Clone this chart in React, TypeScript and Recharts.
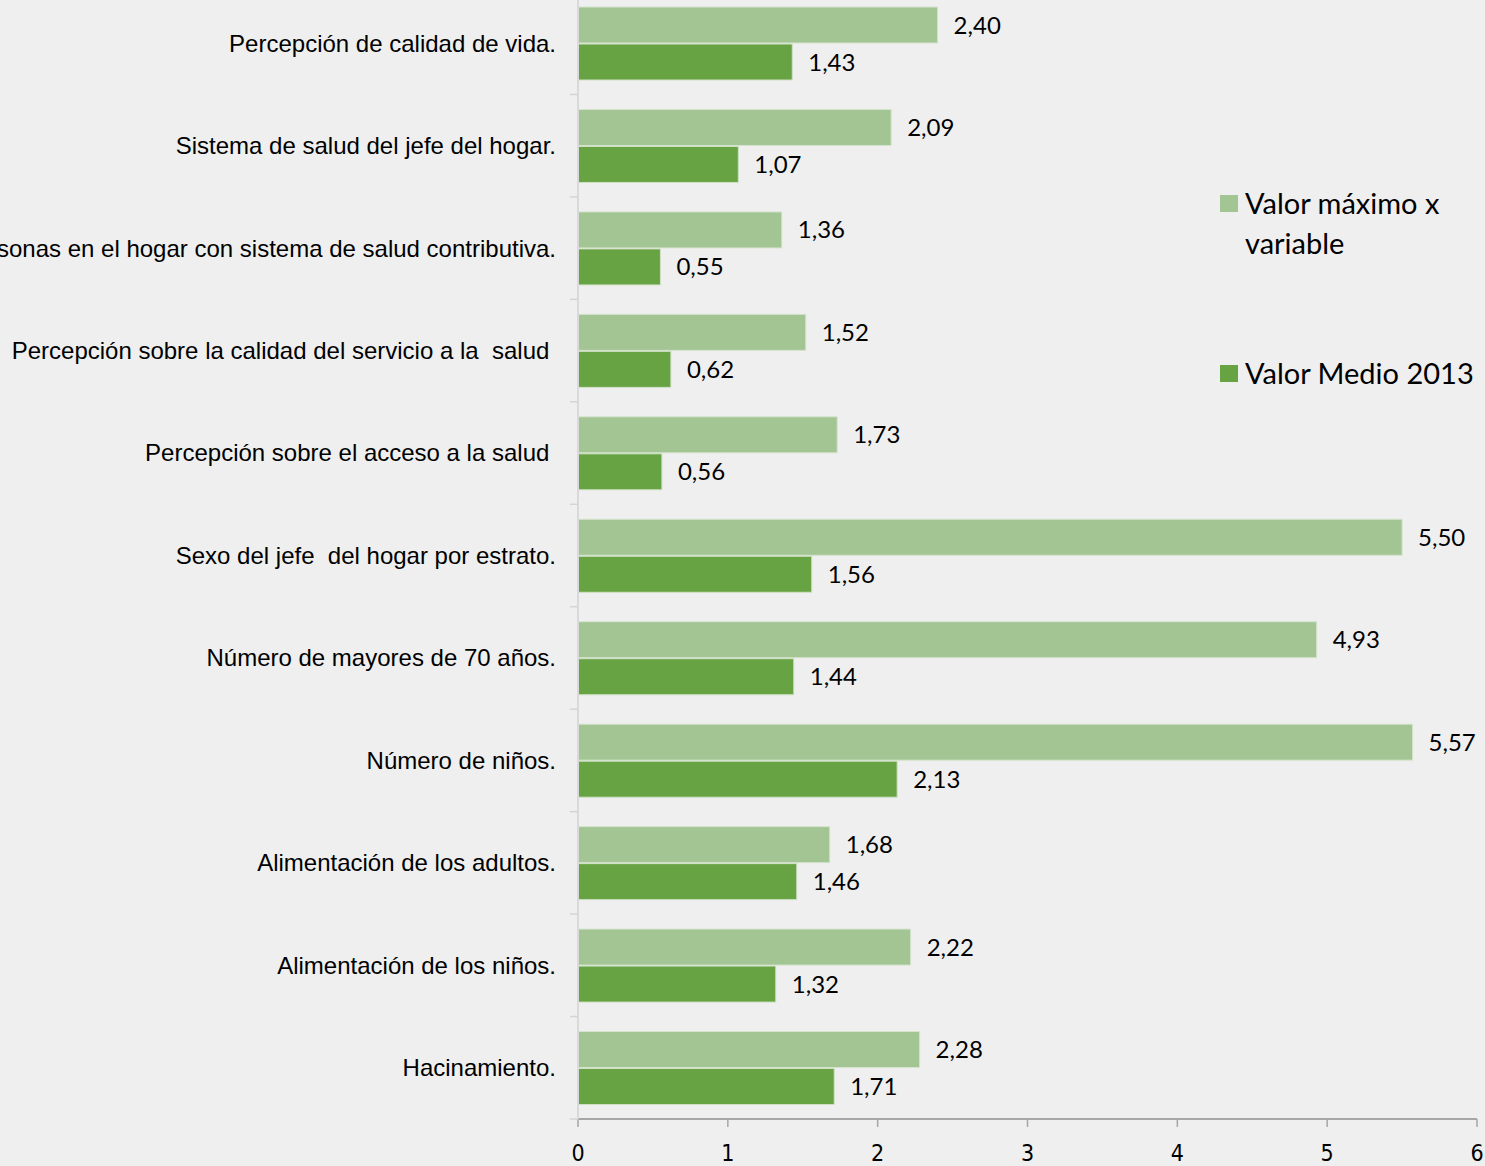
import React from 'react';
import { BarChart, Bar, XAxis, YAxis, LabelList, Legend } from 'recharts';

const categories = [
  'Percepción de calidad de vida.',
  'Sistema de salud del jefe del hogar.',
  'Personas en el hogar con sistema de salud contributiva.',
  'Percepción sobre la calidad del servicio a la  salud ',
  'Percepción sobre el acceso a la salud ',
  'Sexo del jefe  del hogar por estrato.',
  'Número de mayores de 70 años.',
  'Número de niños.',
  'Alimentación de los adultos.',
  'Alimentación de los niños.',
  'Hacinamiento.',
];
const valorMaximo = [2.40, 2.09, 1.36, 1.52, 1.73, 5.50, 4.93, 5.57, 1.68, 2.22, 2.28];
const valorMedio = [1.43, 1.07, 0.55, 0.62, 0.56, 1.56, 1.44, 2.13, 1.46, 1.32, 1.71];
const xTicks = [0, 1, 2, 3, 4, 5, 6];
const seriesNames = ['Valor máximo x variable', 'Valor Medio 2013'];

const data = categories.map((c, i) => ({ name: c, max: valorMaximo[i], medio: valorMedio[i] }));

const COLOR_MAX = '#a3c593';
const COLOR_MED = '#68a343';
const BG = '#efefef';

const CHART_W = 1485;
const CHART_H = 1190;
const MARGIN = { top: 8, right: 8, left: 0, bottom: 15 };
const X_AXIS_H = 40;
const PLOT_H = CHART_H - MARGIN.top - MARGIN.bottom - X_AXIS_H;
const BAND = PLOT_H / categories.length;

const fmt = (v: number) => v.toFixed(2).replace('.', ',');

const YTick = (props: any) => {
  const { x, y, payload } = props;
  return (
    <g>
      <line x1={x} x2={x + 8} y1={y + BAND / 2} y2={y + BAND / 2} stroke="#d4d4d4" strokeWidth={1.5} />
      <text
        x={x - 14}
        y={y}
        dy="0.35em"
        textAnchor="end"
        fontFamily="'Liberation Sans', Arial, sans-serif"
        fontSize={24}
        fill="#000"
        style={{ whiteSpace: 'pre' }}
      >
        {payload.value}
      </text>
    </g>
  );
};

const LegendContent = () => (
  <div style={{ fontFamily: "Lato, 'Open Sans', sans-serif", fontSize: 29, color: '#000', lineHeight: '40px', textAlign: 'left' }}>
    <div style={{ display: 'flex', alignItems: 'flex-start' }}>
      <div style={{ width: 18, height: 17, background: COLOR_MAX, marginTop: 12, marginRight: 7, flexShrink: 0 }} />
      <div style={{ width: 230 }}>{seriesNames[0]}</div>
    </div>
    <div style={{ display: 'flex', alignItems: 'flex-start', marginTop: 90 }}>
      <div style={{ width: 18, height: 17, background: COLOR_MED, marginTop: 12, marginRight: 7, flexShrink: 0 }} />
      <div style={{ whiteSpace: 'nowrap' }}>{seriesNames[1]}</div>
    </div>
  </div>
);

export default function App() {
  return (
    <div style={{ position: 'absolute', left: 0, top: 0, width: 1485, height: 1166, overflow: 'hidden', background: BG }}>
      <div style={{ position: 'absolute', left: 0, top: -16 }}>
        <BarChart
          width={CHART_W}
          height={CHART_H}
          data={data}
          layout="vertical"
          margin={MARGIN}
          barCategoryGap={15}
          barGap={1}
        >
          <XAxis
            type="number"
            domain={[0, 6]}
            ticks={xTicks}
            height={X_AXIS_H}
            tickSize={8}
            tickMargin={18}
            axisLine={{ stroke: '#a6a6a6', strokeWidth: 2 }}
            tickLine={{ stroke: '#a6a6a6', strokeWidth: 1.5 }}
            tick={{ fontFamily: "'DejaVu Sans Condensed', 'Liberation Sans Narrow', sans-serif", fontSize: 23, fill: '#000' }}
          />
          <YAxis
            type="category"
            dataKey="name"
            width={578}
            axisLine={{ stroke: '#d9d9d9', strokeWidth: 2 }}
            tickLine={false}
            tick={<YTick />}
            interval={0}
          />
          <Legend
            layout="vertical"
            align="center"
            verticalAlign="middle"
            content={<LegendContent />}
            wrapperStyle={{ position: 'absolute', left: 1220, top: 199, width: 265 }}
          />
          <Bar dataKey="max" name={seriesNames[0]} fill={COLOR_MAX} stroke="#d5e3cd" strokeWidth={1} isAnimationActive={false}>
            <LabelList dataKey="max" position="right" offset={16} formatter={(v: any) => fmt(Number(v))}
              style={{ fontFamily: "Lato, 'Open Sans', sans-serif", fontSize: 24, fill: '#000' }} />
          </Bar>
          <Bar dataKey="medio" name={seriesNames[1]} fill={COLOR_MED} stroke="#cfe0c5" strokeWidth={1} isAnimationActive={false}>
            <LabelList dataKey="medio" position="right" offset={16} formatter={(v: any) => fmt(Number(v))}
              style={{ fontFamily: "Lato, 'Open Sans', sans-serif", fontSize: 24, fill: '#000' }} />
          </Bar>
        </BarChart>
      </div>
    </div>
  );
}
